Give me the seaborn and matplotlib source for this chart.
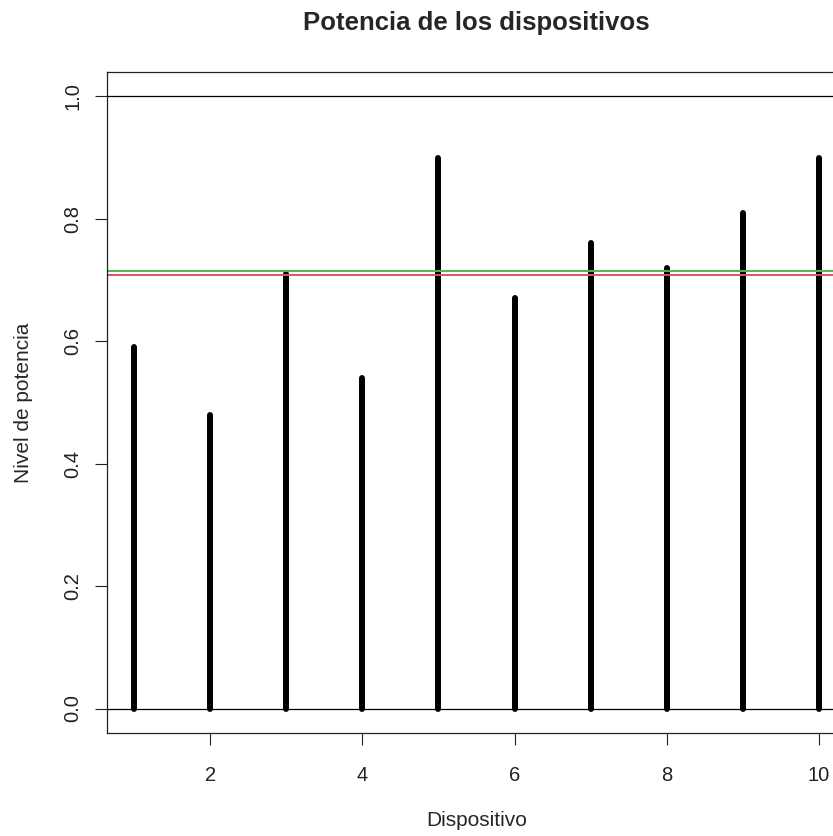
import numpy as np
import pandas as pd
import seaborn as sns
import matplotlib.pyplot as plt

# potencia de cada dispositivo
dispositivo = [1, 2, 3, 4, 5, 6, 7, 8, 9, 10]
potencia = [0.59, 0.48, 0.71, 0.54, 0.90, 0.67, 0.76, 0.72, 0.81, 0.90]
ref_lines = [0.0, 1.0]

df = pd.DataFrame({'dispositivo': dispositivo, 'potencia': potencia})
media = df['potencia'].mean()
mediana = df['potencia'].median()

sns.set_style('ticks')
plt.rcParams['font.family'] = ['Liberation Sans', 'DejaVu Sans']

fig = plt.figure(figsize=(8.33, 8.36), dpi=100)
ax = fig.add_axes([107 / 833, 103 / 836, 739 / 833, 661 / 836])

ax.vlines(df['dispositivo'], 0, df['potencia'], color='black', linewidth=4.3,
          capstyle='round')
for v in ref_lines:
    ax.axhline(v, color='black', linewidth=0.9)
ax.axhline(mediana, color='#52b552', linewidth=1.4)
ax.axhline(media, color='#cf5a5a', linewidth=1.4)

ax.set_xlim(0.64, 10.36)
ax.set_ylim(-0.04, 1.04)
ax.set_xticks([2, 4, 6, 8, 10])
ax.set_yticks([0.0, 0.2, 0.4, 0.6, 0.8, 1.0])
ax.set_yticklabels(['0.0', '0.2', '0.4', '0.6', '0.8', '1.0'], rotation=90, va='center')
ax.tick_params(axis='both', direction='out', length=8.6, width=0.8, labelsize=14.5,
               colors='#222222')
ax.tick_params(axis='x', pad=15.5)
ax.tick_params(axis='y', pad=9)
for s in ax.spines.values():
    s.set_linewidth(0.9)
    s.set_color('#222222')

ax.set_xlabel('Dispositivo', fontsize=15)
ax.set_ylabel('Nivel de potencia', fontsize=15)
ax.xaxis.set_label_coords(0.5, -(811 - 733) / 661)
ax.yaxis.set_label_coords((32.5 - 107) / 739, 0.5)
ax.set_title('Potencia de los dispositivos', fontsize=18.5, fontweight='bold', pad=30)

fig.savefig('out.png', dpi=100)
